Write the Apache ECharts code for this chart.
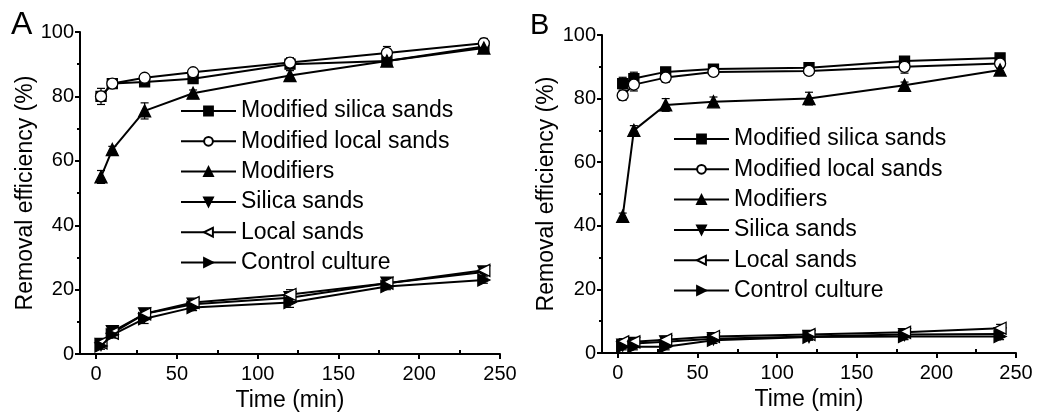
<!DOCTYPE html>
<html>
<head>
<meta charset="utf-8">
<script src="https://cdn.jsdelivr.net/npm/echarts@6/dist/echarts.min.js"></script>
<style>
  html, body { margin: 0; padding: 0; background: #fff; }
  #chart { width: 1042px; height: 417px; }
</style>
</head>
<body>
<div id="chart"></div>
<script>
// sampling times (min)
var times = [3, 10, 30, 60, 120, 180, 240];
var seriesNames = ["Modified silica sands", "Modified local sands", "Modifiers", "Silica sands", "Local sands", "Control culture"];
var xTicks = [0, 50, 100, 150, 200, 250];
var xMinorTicks = [25, 75, 125, 175, 225];

// panel A values (%) and error bars
var modSilicaA = [80, 84, 84.5, 85.5, 90, 91, 95.5];
var modLocalA = [80, 84, 85.8, 87.5, 90.5, 93.5, 96.5];
var modifiersA = [55, 63.5, 75.5, 81, 86.5, 91, 95];
var silicaA = [3, 7, 12.5, 15.5, 17.5, 22, 25.5];
var localA = [3.5, 6.5, 12.5, 16, 18.5, 22, 26];
var controlA = [2.5, 6, 11, 14.5, 16, 21, 23];
var modSilicaAErr = [1, 1, 1, 1, 1, 1, 1.5];
var modLocalAErr = [2.5, 1, 1, 1, 1.5, 2, 1.5];
var modifiersAErr = [2, 1, 2.5, 1, 1.5, 1.5, 1.5];
var silicaAErr = [1, 1, 1.5, 1, 1.5, 1.5, 1];
var localAErr = [1, 1, 1, 1, 1.5, 1, 1];
var controlAErr = [1, 1, 1.5, 1, 1.5, 1, 1];

// panel B values (%) and error bars
var modSilicaB = [84.7, 86.3, 88.4, 89.3, 89.7, 91.8, 92.8];
var modLocalB = [81, 84.4, 86.6, 88.4, 88.7, 90, 91];
var modifiersB = [43, 70, 78, 79, 80, 84.2, 89];
var silicaB = [2.5, 3, 3.5, 4.5, 5.2, 5.8, 6];
var localB = [3.5, 3.5, 4.2, 5.2, 5.8, 6.5, 7.8];
var controlB = [2, 2, 2, 4, 5, 5.2, 5.2];
var modSilicaBErr = [2, 2, 1, 1, 1.5, 1, 1];
var modLocalBErr = [1.5, 2, 1.5, 1, 1, 2, 1.5];
var modifiersBErr = [1, 1.5, 2, 1.5, 2, 1, 1.5];
var silicaBErr = [1, 1, 1, 1, 1, 1, 1];
var localBErr = [1, 1, 1, 1, 1, 1, 1.2];
var controlBErr = [1, 1, 1, 1, 1, 1, 1];

var FONT = "Liberation Sans, Arial, sans-serif";

var symbols = [
  { symbol: "rect", size: 10, fill: "#000" },
  { symbol: "circle", size: 11, fill: "#fff" },
  { symbol: "triangle", size: 12, fill: "#000" },
  { symbol: "path://M0,0L2,0L1,2Z", size: 12, fill: "#000" },
  { symbol: "path://M0,1L2,0L2,2Z", size: 12, fill: "#fff" },
  { symbol: "path://M0,0L2,1L0,2Z", size: 12, fill: "#000" }
];

function pairs(vals, errs) {
  return times.map(function (t, i) { return [t, vals[i], errs ? errs[i] : 0]; });
}

function errRender(params, api) {
  var x = api.value(0), y = api.value(1), e = api.value(2);
  var top = api.coord([x, y + e]);
  var bot = api.coord([x, y - e]);
  var w = 4;
  var st = { stroke: "#000", lineWidth: 1.2 };
  return {
    type: "group",
    children: [
      { type: "line", shape: { x1: top[0], y1: top[1], x2: bot[0], y2: bot[1] }, style: st },
      { type: "line", shape: { x1: top[0] - w, y1: top[1], x2: top[0] + w, y2: top[1] }, style: st },
      { type: "line", shape: { x1: bot[0] - w, y1: bot[1], x2: bot[0] + w, y2: bot[1] }, style: st }
    ]
  };
}

function panelSeries(valsList, errList, xIdx, yIdx) {
  var out = [];
  valsList.forEach(function (vals, i) {
    out.push({
      type: "custom",
      xAxisIndex: xIdx,
      yAxisIndex: yIdx,
      renderItem: errRender,
      data: pairs(vals, errList[i]),
      z: 1,
      silent: true
    });
  });
  valsList.forEach(function (vals, i) {
    var s = symbols[i];
    out.push({
      name: seriesNames[i],
      type: "line",
      xAxisIndex: xIdx,
      yAxisIndex: yIdx,
      data: pairs(vals),
      symbol: s.symbol,
      symbolSize: s.size,
      showAllSymbol: true,
      lineStyle: { color: "#000", width: 2 },
      itemStyle: { color: s.fill, borderColor: "#000", borderWidth: 1.3, opacity: 1 },
      z: 2 + i
    });
  });
  return out;
}

function mainX(gridIndex) {
  return {
    type: "value", gridIndex: gridIndex, min: -10, max: 250,
    name: "Time (min)", nameLocation: "middle", nameGap: 32,
    nameTextStyle: { fontSize: 23, color: "#000", fontFamily: FONT },
    axisLine: { onZero: false, lineStyle: { color: "#000", width: 2 } },
    axisTick: { customValues: xTicks, length: 5, lineStyle: { color: "#000", width: 2 } },
    axisLabel: { customValues: xTicks, fontSize: 20, color: "#000", fontFamily: FONT, margin: 10 },
    splitLine: { show: false }
  };
}

function minorX(gridIndex) {
  return {
    type: "value", gridIndex: gridIndex, min: -10, max: 250, position: "bottom",
    axisLine: { show: false },
    axisTick: { inside: true, customValues: xMinorTicks, length: 4, lineStyle: { color: "#000", width: 2 } },
    axisLabel: { show: false },
    splitLine: { show: false }
  };
}

function mainY(gridIndex, gap) {
  return {
    type: "value", gridIndex: gridIndex, min: 0, max: 100, interval: 20,
    name: "Removal efficiency (%)", nameLocation: "middle", nameGap: gap,
    nameTextStyle: { fontSize: 23, color: "#000", fontFamily: FONT },
    axisLine: { show: true, onZero: false, lineStyle: { color: "#000", width: 2 } },
    axisTick: { show: true, length: 5, lineStyle: { color: "#000", width: 2 } },
    minorTick: { show: true, splitNumber: 2, length: 3, lineStyle: { color: "#000", width: 2 } },
    axisLabel: { fontSize: 20, color: "#000", fontFamily: FONT, margin: 6 },
    splitLine: { show: false }
  };
}

function legendAt(left, top) {
  return {
    orient: "vertical", left: left, top: top, padding: 0,
    data: seriesNames,
    itemWidth: 55, itemHeight: 11, itemGap: 6.3,
    textStyle: { fontSize: 23, color: "#000", fontFamily: FONT, lineHeight: 24 },
    selectedMode: false
  };
}

var chart = echarts.init(document.getElementById("chart"), null, { renderer: "canvas" });

var option = {
  animation: false,
  backgroundColor: "#fff",
  grid: [
    { left: 80, top: 32, width: 420, height: 323 },
    { left: 602, top: 35, width: 414, height: 318 }
  ],
  xAxis: [mainX(0), minorX(0), mainX(1), minorX(1)],
  yAxis: [mainY(0, 42), mainY(1, 44)],
  legend: [legendAt(180, 99), legendAt(673, 127)],
  graphic: [
    { type: "text", left: 11, top: 9, style: { text: "A", fontSize: 32, fontFamily: FONT, fill: "#000" } },
    { type: "text", left: 530, top: 11, style: { text: "B", fontSize: 29, fontFamily: FONT, fill: "#000" } }
  ],
  series: []
    .concat(panelSeries(
      [modSilicaA, modLocalA, modifiersA, silicaA, localA, controlA],
      [modSilicaAErr, modLocalAErr, modifiersAErr, silicaAErr, localAErr, controlAErr], 0, 0))
    .concat(panelSeries(
      [modSilicaB, modLocalB, modifiersB, silicaB, localB, controlB],
      [modSilicaBErr, modLocalBErr, modifiersBErr, silicaBErr, localBErr, controlBErr], 2, 1))
};

chart.setOption(option);
</script>
</body>
</html>
